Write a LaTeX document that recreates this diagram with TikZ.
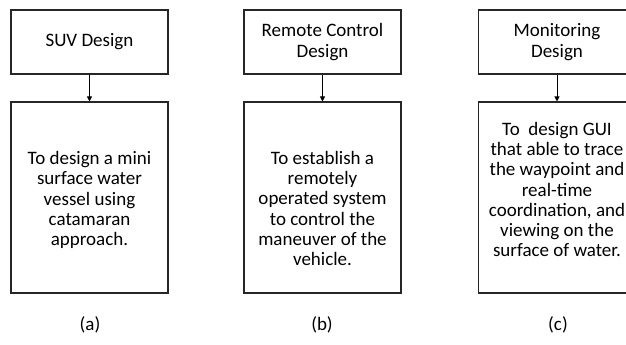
\documentclass[tikz,border=0pt]{standalone}
\usepackage{fontspec}
\setmainfont{Carlito}
\usetikzlibrary{arrows.meta}
\begin{document}
\begin{tikzpicture}[x=1pt,y=-1pt,
  box/.style={draw=black!85,line width=1.1pt,minimum width=157pt,inner sep=0pt},
  headbox/.style={box,minimum height=64pt},
  bodybox/.style={box,minimum height=191pt},
  txt/.style={align=center,font=\fontsize{19}{20.3}\selectfont,inner sep=0pt},
  link/.style={draw=black,line width=1pt,-{Triangle[length=5pt,width=5pt]}}]
\useasboundingbox (0,0) rectangle (626,345);
\clip (0,0) rectangle (626,345);
% column (a)
\node[headbox] (ha) at (89.5,42) {};
\node[txt] at (ha.center) {SUV Design};
\node[bodybox] (ba) at (89.5,197.5) {};
\node[txt] (ta) at (89.5,200) {To design a mini\\surface water\\vessel using\\catamaran\\approach.};
\draw[link] (ha.south) -- (ba.north);
\node[txt] (la) at (90,325) {(a)};
% column (b)
\node[headbox] (hb) at (322.5,42) {};
\node[txt] at (hb.center) {Remote Control\\Design};
\node[bodybox] (bb) at (322.5,197.5) {};
\node[txt] (tb) at (322.5,208.5) {To establish a\\remotely\\operated system\\to control the\\maneuver of the\\vehicle.};
\draw[link] (hb.south) -- (bb.north);
\node[txt] (lb) at (322,325) {(b)};
% column (c)
\node[headbox] (hc) at (557,42) {};
\node[txt] at (hc.center) {Monitoring\\Design};
\node[bodybox] (bc) at (557,197.5) {};
\node[txt] (tc) at (557,189.5) {To\ \ design GUI\\that able to trace\\the waypoint and\\real-time\\coordination, and\\viewing on the\\surface of water.};
\draw[link] (hc.south) -- (bc.north);
\node[txt] (lc) at (558,325) {(c)};
\end{tikzpicture}
\end{document}
